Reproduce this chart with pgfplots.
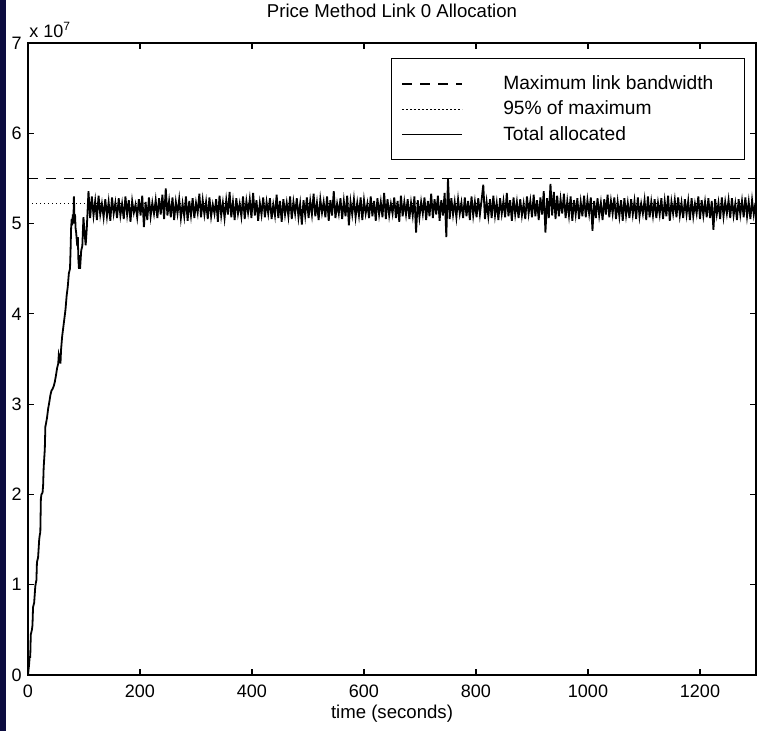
\documentclass[border=0pt]{standalone}
\usepackage{fontspec}
\setmainfont{Liberation Sans}
\usepackage{pgfplots}
\pgfplotsset{compat=1.18}
\definecolor{navyframe}{RGB}{12,12,64}
\begin{document}
\fontsize{9}{11}\selectfont
\begin{tikzpicture}
\begin{axis}[
  name=ax,
  scale only axis, width=364pt, height=316pt,
  xmin=0, xmax=1300, ymin=0, ymax=7,
  xtick={0,200,...,1200}, ytick={0,1,...,7},
  tick align=inside, major tick length=3pt,
  axis line style={line width=0.6pt},
  tick style={line width=0.6pt, black},
  font=\fontsize{9}{11}\selectfont,
  /pgf/number format/assume math mode=true,
  /pgf/number format/set thousands separator={},
  xticklabel style={yshift=-2pt},
  legend image code/.code={\draw[#1] (0pt,0pt) -- (30pt,0pt);},
  legend cell align=left,
  legend style={at={(0.985,0.976)}, anchor=north east, draw=black, line width=0.6pt,
    inner xsep=5pt, inner ysep=6.5pt, row sep=0.3pt,
    font=\fontsize{9.6}{11}\selectfont,
    /tikz/every odd column/.append style={column sep=18pt}},
]
\addplot[black, line width=0.65pt, dash pattern=on 5pt off 4pt] coordinates {(0,5.5)(1300,5.5)};
\addlegendentry{Maximum link bandwidth\rule{8.5pt}{0pt}}
\addplot[black, line width=0.7pt, dash pattern=on 0.7pt off 1.3pt] coordinates {(0,5.225)(1300,5.225)};
\addlegendentry{95\% of maximum}
\addplot[black, line width=0.9pt] coordinates {
(0,0)(2,0.12)(3,0.2)(4,0.2)(5,0.45)(7,0.5)(8,0.55)(9,0.75)(11,0.8)(13,0.98)
(14,1.02)(15,1.05)(16,1.25)(18,1.3)(20,1.5)(21,1.55)(22,1.58)(23,1.95)(24,2.0)(26,2.02)
(27,2.1)(28,2.3)(29,2.4)(30,2.5)(31,2.75)(32,2.78)(34,2.85)(36,2.95)(38,3.02)(40,3.1)
(42,3.15)(44,3.17)(46,3.2)(48,3.25)(50,3.32)(52,3.4)(54,3.45)(55,3.55)(57,3.5)(58,3.45)
(59,3.6)(61,3.75)(63,3.85)(65,3.95)(67,4.05)(69,4.2)(71,4.3)(73,4.45)(75,4.5)(76,4.7)
(77,4.95)(78,5.05)(79,4.98)(80,5.1)(81,5.0)(82,5.3)(83,5.05)(84,5.1)(85,4.95)(86,4.9)
(88,4.75)(89,4.85)(90,4.6)(91,4.5)(92,4.65)(93,4.5)(95,4.7)(97,4.75)(99,5.07)(101,4.9)
(103,4.76)(105,4.95)
(108,5.36)(111,5.06)(114,5.30)(117,5.09)(120,5.25)(123,5.04)(126,5.31)(129,5.10)(132,5.22)(135,5.07)
(138,5.27)(141,5.08)(144,5.24)(147,5.03)(150,5.29)(153,5.11)(156,5.23)(159,5.06)(162,5.28)(165,5.09)
(168,5.22)(171,5.05)(174,5.30)(177,5.10)(180,5.26)(183,5.02)(186,5.25)(189,5.12)(192,5.21)(195,5.07)
(198,5.27)(201,5.09)(204,5.31)(207,4.96)(210,5.24)(213,5.04)(216,5.29)(219,5.08)(222,5.23)(225,5.11)
(228,5.26)(231,5.06)(234,5.28)(237,5.10)(240,5.32)(243,5.05)(246,5.39)(249,5.09)(252,5.25)(255,5.07)
(258,5.29)(261,5.04)(264,5.24)(267,5.11)(270,5.27)(273,5.06)(276,5.22)(279,5.08)(282,5.30)(285,5.03)
(288,5.25)(291,5.09)(294,5.28)(297,5.06)(300,5.23)(303,5.12)(306,5.33)(309,5.07)(312,5.26)(315,5.10)
(318,5.24)(321,5.05)(324,5.29)(327,5.08)(330,5.21)(333,5.11)(336,5.27)(339,5.02)(342,5.31)(345,5.09)
(348,5.23)(351,5.06)(354,5.26)(357,5.10)(360,5.35)(363,5.07)(366,5.24)(369,5.04)(372,5.28)(375,5.11)
(378,5.22)(381,5.08)(384,5.30)(387,5.05)(390,5.25)(393,5.12)(396,5.27)(399,5.06)(402,5.34)(405,5.09)
(408,5.26)(411,5.03)(414,5.23)(417,5.10)(420,5.29)(423,5.07)(426,5.24)(429,5.11)(432,5.28)(435,5.05)
(438,5.21)(441,5.09)(444,5.32)(447,5.06)(450,5.25)(453,5.02)(456,5.27)(459,5.10)(462,5.23)(465,5.08)
(468,5.30)(471,5.05)(474,5.24)(477,5.11)(480,5.28)(483,5.07)(486,5.22)(489,4.99)(492,5.26)(495,5.09)
(498,5.29)(501,5.06)(504,5.25)(507,5.10)(510,5.33)(513,5.08)(516,5.23)(519,5.04)(522,5.27)(525,5.12)
(528,5.24)(531,5.07)(534,5.30)(537,5.03)(540,5.26)(543,5.09)(546,5.36)(549,5.06)(552,5.22)(555,5.11)
(558,5.28)(561,5.05)(564,5.25)(567,5.08)(570,5.31)(573,4.98)(576,5.24)(579,5.10)(582,5.27)(585,5.07)
(588,5.23)(591,5.09)(594,5.29)(597,5.04)(600,5.26)(603,5.11)(606,5.22)(609,5.06)(612,5.30)(615,5.08)
(618,5.25)(621,5.03)(624,5.28)(627,5.10)(630,5.24)(633,5.07)(636,5.34)(639,5.05)(642,5.27)(645,5.09)
(648,5.22)(651,5.11)(654,5.29)(657,5.06)(660,5.25)(663,5.02)(666,5.31)(669,5.08)(672,5.24)(675,5.10)
(678,5.27)(681,5.05)(684,5.23)(687,5.09)(690,5.30)(693,4.90)(696,5.26)(699,5.07)(702,5.24)(705,5.11)
(708,5.29)(711,5.04)(714,5.25)(717,5.08)(720,5.33)(723,5.06)(726,5.27)(729,5.10)(732,5.31)(735,5.03)
(738,5.26)(741,5.09)(744,5.34)(747,4.85)(750,5.50)(753,5.05)(756,5.28)(759,5.10)(762,5.24)(765,5.07)
(768,5.27)(771,5.11)(774,5.23)(777,5.06)(780,5.29)(783,5.08)(786,5.25)(789,5.04)(792,5.30)(795,5.09)
(798,5.24)(801,5.07)(804,5.28)(807,5.10)(810,5.26)(813,5.43)(816,5.05)(819,5.24)(822,5.08)(825,5.27)
(828,5.06)(831,5.31)(834,5.09)(837,5.23)(840,5.04)(843,5.28)(846,5.11)(849,5.25)(852,5.07)(855,5.34)
(858,5.08)(861,5.26)(864,5.03)(867,5.29)(870,5.10)(873,5.24)(876,5.06)(879,5.27)(882,5.09)(885,5.22)
(888,5.05)(891,5.30)(894,5.11)(897,5.25)(900,5.07)(903,5.32)(906,5.08)(909,5.26)(912,5.04)(915,5.29)
(918,5.10)(921,5.36)(924,4.90)(927,5.28)(930,5.06)(933,5.44)(936,5.09)(939,5.35)(942,5.05)(945,5.31)
(948,5.08)(951,5.27)(954,5.11)(957,5.33)(960,5.06)(963,5.25)(966,5.09)(969,5.30)(972,5.03)(975,5.26)
(978,5.10)(981,5.28)(984,5.05)(987,5.24)(990,5.08)(993,5.31)(996,5.07)(999,5.26)(1002,5.11)(1005,5.29)
(1008,4.92)(1011,5.25)(1014,5.06)(1017,5.28)(1020,5.09)(1023,5.23)(1026,5.04)(1029,5.27)(1032,5.10)(1035,5.32)
(1038,5.07)(1041,5.25)(1044,5.11)(1047,5.29)(1050,5.05)(1053,5.24)(1056,5.08)(1059,5.26)(1062,5.03)(1065,5.28)
(1068,5.09)(1071,5.23)(1074,5.06)(1077,5.27)(1080,5.10)(1083,5.25)(1086,5.05)(1089,5.29)(1092,5.08)(1095,5.22)
(1098,5.11)(1101,5.26)(1104,5.04)(1107,5.30)(1110,5.07)(1113,5.24)(1116,5.09)(1119,5.27)(1122,5.06)(1125,5.23)
(1128,5.10)(1131,5.28)(1134,5.05)(1137,5.25)(1140,5.08)(1143,5.31)(1146,5.03)(1149,5.24)(1152,5.11)(1155,5.26)
(1158,5.07)(1161,5.29)(1164,5.09)(1167,5.23)(1170,5.06)(1173,5.27)(1176,5.10)(1179,5.25)(1182,5.04)(1185,5.28)
(1188,5.08)(1191,5.22)(1194,5.11)(1197,5.30)(1200,5.05)(1203,5.26)(1206,5.09)(1209,5.24)(1212,5.07)(1215,5.28)
(1218,5.06)(1221,5.25)(1224,4.93)(1227,5.27)(1230,5.10)(1233,5.23)(1236,5.05)(1239,5.29)(1242,5.08)(1245,5.24)
(1248,5.11)(1251,5.26)(1254,5.06)(1257,5.28)(1260,5.09)(1263,5.22)(1266,5.04)(1269,5.27)(1272,5.10)(1275,5.25)
(1278,5.07)(1281,5.29)(1284,5.08)(1287,5.24)(1290,5.05)(1293,5.26)(1296,5.10)(1299,5.23)
};
\addlegendentry{Total allocated}
\end{axis}
\node[anchor=base, inner sep=0pt, font=\fontsize{9.3}{11}\selectfont] at (182pt,328.5pt) {Price Method Link 0 Allocation};
\node[anchor=base, inner sep=0pt, font=\fontsize{9.3}{11}\selectfont] at (182pt,-21.8pt) {time (seconds)};
\node[anchor=base west, inner sep=0pt] at (0.5pt,318.5pt) {x 10\textsuperscript{7}};
\pgfresetboundingbox
\path (-14pt,-28pt) rectangle (364.5pt,337.5pt);
\fill[navyframe] (-14pt,-28pt) rectangle (-11pt,337.5pt);
\end{tikzpicture}
\end{document}
